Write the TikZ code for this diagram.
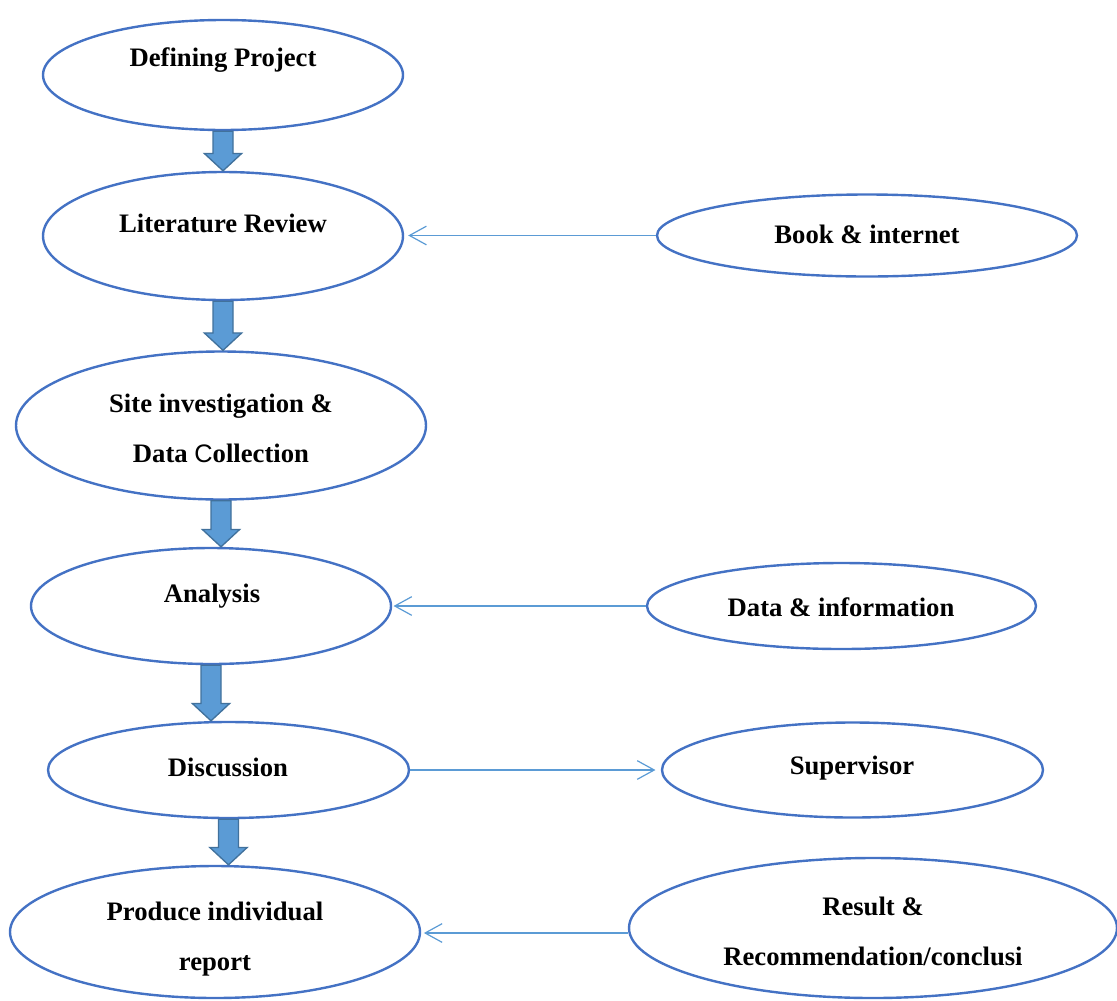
\documentclass[tikz,border=0pt]{standalone}
\usepackage{fontspec}
\setmainfont{Liberation Serif}
\newfontfamily\thinsans{Liberation Sans}
\usetikzlibrary{shapes.geometric,arrows.meta,calc}
\definecolor{ovalline}{HTML}{4472C4}
\definecolor{linkblue}{HTML}{5B9BD5}
\definecolor{blockfill}{HTML}{5B9BD5}
\definecolor{blockedge}{HTML}{41719C}
\tikzset{
  oval/.style={ellipse, draw=ovalline, line width=1.8pt, inner sep=0pt},
  txt/.style={font=\fontsize{20}{37.5}\selectfont\bfseries, align=center, inner sep=0pt},
  link/.style={draw=linkblue, line width=0.9pt,
    -{Straight Barb[length=12.75pt, width=14pt, line width=0.9pt]}},
  blockarrow/.style={fill=blockfill, draw=blockedge, line width=1pt, line join=miter},
}
% fat downward arrow from one oval to the next
\newcommand{\downblock}[2]{%
  \path let \p1=(#1.south), \p2=(#2.north) in
    [blockarrow] (\x1-7.5pt,\y1) -- (\x1+7.5pt,\y1) -- (\x1+7.5pt,\y2+13pt)
    -- (\x1+14pt,\y2+13pt) -- (\x1,\y2) -- (\x1-14pt,\y2+13pt)
    -- (\x1-7.5pt,\y2+13pt) -- cycle;}
\begin{document}
\begin{tikzpicture}[x=0.75pt,y=-0.75pt]
\useasboundingbox (0,0) rectangle (1117,1000);

% main column
\node[oval, minimum width=270pt, minimum height=82.5pt] (def) at (223,75) {};
\node[oval, minimum width=270pt, minimum height=96pt] (lit) at (223,236) {};
\node[oval, minimum width=307.5pt, minimum height=111pt] (site) at (221,425.5) {};
\node[oval, minimum width=270pt, minimum height=87pt] (ana) at (211,606) {};
\node[oval, minimum width=270.75pt, minimum height=72pt] (disc) at (228.5,770) {};
\node[oval, minimum width=307.5pt, minimum height=99pt] (prod) at (215,932) {};

% side column
\node[oval, minimum width=315pt, minimum height=61.5pt] (book) at (867,235.5) {};
\node[oval, minimum width=291.75pt, minimum height=64.5pt] (data) at (841.5,606) {};
\node[oval, minimum width=285.75pt, minimum height=71.25pt] (sup) at (852.5,770) {};
\node[oval, minimum width=366pt, minimum height=105pt] (res) at (873,928) {};

% labels
\node[txt] (tdef) at (223,60) {Defining Project};
\node[txt] (tlit) at (223,223) {Literature Review};
\node[txt] (tsite) at (221,428) {Site investigation \&\\Data {\thinsans\mdseries\fontsize{19}{19}\selectfont C}ollection};
\node[txt] (tana) at (212,596) {Analysis};
\node[txt] (tdisc) at (228,767) {Discussion};
\node[txt] (tprod) at (215,939) {Produce individual\\report};
\node[txt] (tbook) at (867,234) {Book \& internet};
\node[txt] (tdata) at (841,607) {Data \& information};
\node[txt] (tsup) at (852,768) {Supervisor};
\node[txt] (tres) at (873,931) {Result \&\\Recommendation/conclusi};

% flow down the main column
\downblock{def}{lit}
\downblock{lit}{site}
\downblock{site}{ana}
\downblock{ana}{disc}
\downblock{disc}{prod}

% side inputs and outputs
\draw[link] (book.west) -- ([xshift=3pt]lit.east |- book.west);
\draw[link] (data.west) -- ([xshift=1pt]ana.east |- data.west);
\draw[link] (disc.east) -- ([xshift=-4pt]sup.west |- disc.east);
\draw[link] ([yshift=-3.75pt]res.west) -- ([xshift=2pt,yshift=-3.75pt]prod.east |- res.west);
\end{tikzpicture}
\end{document}
